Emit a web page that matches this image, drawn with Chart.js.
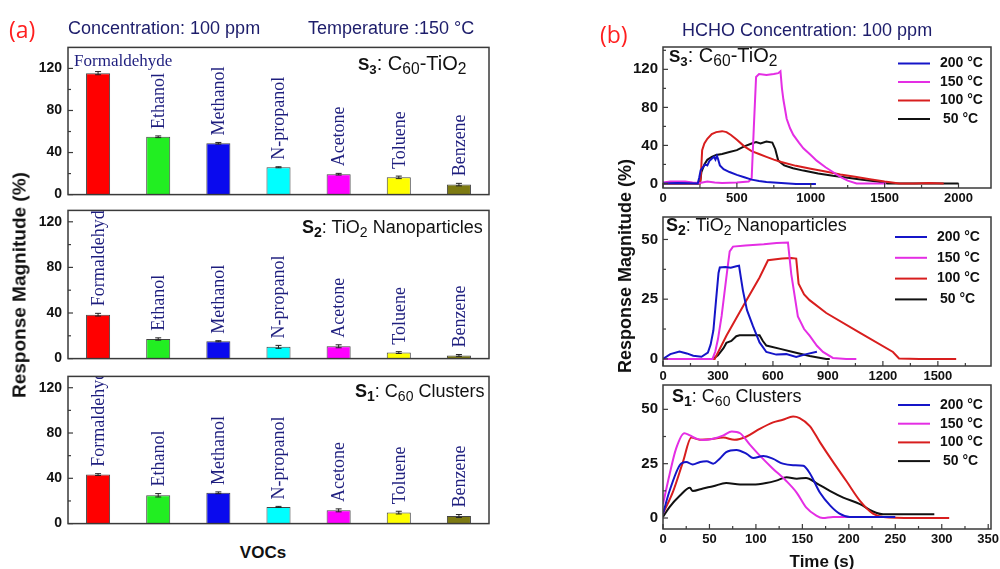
<!DOCTYPE html>
<html><head><meta charset="utf-8">
<script src="https://cdn.jsdelivr.net/npm/chart.js@4.4.1/dist/chart.umd.min.js"></script>
<style>
body{margin:0;width:1000px;height:569px;background:#fff;position:relative;overflow:hidden;font-family:"Liberation Sans",Arial,sans-serif;}
canvas{position:absolute;}
.t{position:absolute;white-space:nowrap;line-height:1;color:#111;}
.t sub{font-size:0.78em;vertical-align:-0.28em;line-height:0;}
.rot{position:absolute;white-space:nowrap;line-height:1;font-weight:bold;color:#111;transform:translate(-50%,-50%) rotate(-90deg);}
.ctr{position:absolute;white-space:nowrap;line-height:1;font-weight:bold;color:#111;transform:translate(-50%,-50%);}
</style></head><body>
<canvas id="a1"></canvas><canvas id="a2"></canvas><canvas id="a3"></canvas>
<canvas id="b1"></canvas><canvas id="b2"></canvas><canvas id="b3"></canvas>

<div class="t" style="left:9px;top:13px;font:23px 'Open Sans';color:#ff1f1f">(a)</div>
<div class="t" style="left:68px;top:19px;font-size:18px;color:#1d1d6b">Concentration: 100 ppm</div>
<div class="t" style="left:308px;top:19px;font-size:18px;color:#1d1d6b">Temperature :150 °C</div>
<div class="t" style="left:600px;top:18px;font:23px 'Open Sans';color:#ff1f1f">(b)</div>
<div class="t" style="left:682px;top:21px;font-size:18px;color:#1d1d6b">HCHO Concentration: 100 ppm</div>

<div class="t" style="left:358px;top:53px;font-size:20px"><b style="font-size:17px">S<sub>3</sub></b>: C<sub>60</sub>-TiO<sub>2</sub></div>
<div class="t" style="left:302px;top:218px;font-size:18px"><b>S<sub>2</sub></b>: TiO<sub>2</sub> Nanoparticles</div>
<div class="t" style="left:355px;top:382px;font-size:18px"><b>S<sub>1</sub></b>: C<sub>60</sub> Clusters</div>
<div class="t" style="left:669px;top:45px;font-size:20px"><b style="font-size:17px">S<sub>3</sub></b>: C<sub>60</sub>-TiO<sub>2</sub></div>
<div class="t" style="left:666px;top:216px;font-size:18px"><b>S<sub>2</sub></b>: TiO<sub>2</sub> Nanoparticles</div>
<div class="t" style="left:672px;top:387px;font-size:18px"><b>S<sub>1</sub></b>: C<sub>60</sub> Clusters</div>

<div class="rot" style="left:18.5px;top:285px;font-size:19px">Response Magnitude (%)</div>
<div class="rot" style="left:625px;top:266px;font-size:18px">Response Magnitude (%)</div>
<div class="ctr" style="left:263px;top:552px;font-size:17px">VOCs</div>
<div class="ctr" style="left:822px;top:561px;font-size:17px">Time (s)</div>

<script>
// ---------- Panel (a) data ----------
const vocs = ['Formaldehyde','Ethanol','Methanol','N-propanol','Acetone','Toluene','Benzene'];
const vocColors = ['#ff0000','#22ee22','#0a0aee','#00ffff','#ff00ff','#ffff00','#7d7a12'];
const s3Resp = [115.5, 55, 48.8, 26, 19.4, 16.4, 9.5];
const s3Err  = [1.5, 0.8, 0.8, 0.5, 0.8, 1.2, 1.2];
const s2Resp = [38.5, 17.2, 15.2, 10.3, 10.8, 5.3, 2.8];
const s2Err  = [1.2, 1.0, 0.5, 1.3, 1.3, 0.8, 0.8];
const s1Resp = [43.3, 25, 27.2, 14.7, 11.7, 9.7, 6.7];
const s1Err  = [0.8, 1.5, 0.8, 0.5, 1.3, 1.2, 1.3];
const aTicks = [0, 40, 80, 120];
const aMinor = [20, 60, 100];

// ---------- Panel (b) data ----------
const tempLabels = ['200 °C', '150 °C', '100 °C', '50 °C'];
const tempColors = ['#1515c8', '#e42ee4', '#d81e1e', '#111111'];

// S3: C60-TiO2  [time(s), response(%)]
const s3_200 = [[0,0],[100,0.5],[235,0],[245,6],[255,14],[270,17],[285,20],[300,19],[315,24],[330,26],[345,28],[355,25],[365,29],[372,26],[385,19],[410,15],[450,12],[500,9],[550,6.5],[600,4],[650,2.5],[700,1.5],[800,0.5],[900,-0.5],[1035,-0.5]];
const s3_150 = [[0,1],[50,2],[150,2],[200,1],[250,0.5],[300,2],[350,1],[400,0.5],[500,1],[580,2],[600,5],[615,60],[630,112],[650,115],[700,114],[750,115],[780,116],[795,118],[805,100],[815,88],[837,68],[860,58],[882,51],[920,43],[950,37],[1000,30],[1040,24],[1100,17],[1150,12],[1200,7],[1250,3],[1310,0],[1400,0],[1510,0]];
const s3_100 = [[0,0],[250,0],[255,5],[265,35],[280,42],[300,47],[330,52],[360,54],[400,55],[430,54],[460,51],[500,46],[550,39],[600,34],[650,31],[700,28],[750,25],[800,22.5],[900,18.5],[1000,15.5],[1100,12.5],[1200,9.5],[1300,7],[1400,4.5],[1500,2],[1600,0],[1700,0],[1800,0.5],[1900,0]];
const s3_50 = [[0,0],[250,0],[260,12],[280,20],[300,25],[330,28],[360,30],[400,31],[450,33],[500,35],[550,39],[600,42],[630,43.5],[660,42],[700,44],[740,43],[760,36],[780,24],[820,19],[880,16],[950,13.5],[1050,10.5],[1150,8],[1250,6],[1350,4],[1450,2],[1520,0],[1700,0],[2000,0]];

// S2: TiO2 nanoparticles
const s2_200 = [[0,0],[40,2],[90,3.1],[130,2.3],[165,1.3],[210,0.9],[245,2.6],[260,6],[275,12],[290,25],[303,36],[310,38.3],[340,38.5],[370,38.2],[400,38.8],[415,39],[425,34],[436,28.7],[458,20.5],[491,13.7],[527,6.9],[564,2.9],[618,1.8],[673,2],[727,0.8],[782,2],[840,3]];
const s2_150 = [[0,0],[270,0],[285,3],[300,8.3],[320,18],[337,28.7],[352,38],[364,45],[382,47],[450,47.5],[550,48],[620,48.5],[682,48.7],[700,35.5],[736,17.8],[770,12.5],[800,9.7],[840,5.5],[873,2.9],[927,0.4],[1000,0],[1055,0]];
const s2_100 = [[0,0],[282,0],[346,9.7],[436,21.9],[527,34.1],[573,41.3],[650,42],[700,42.2],[727,42],[740,31.5],[770,27],[800,24.6],[891,19.2],[1073,11],[1255,2.9],[1288,0.2],[1400,0],[1600,0]];
const s2_50 = [[0,0],[273,0],[300,1.5],[330,4.5],[346,6.7],[373,7.5],[400,9.5],[418,9.9],[527,9.9],[545,7.5],[564,5.6],[640,4.2],[709,2.9],[800,1.2],[891,0],[910,0]];

// S1: C60 clusters
const s1_200 = [[0,2],[7,12.4],[18,24.3],[25,25.8],[32,24.6],[40,25.8],[47,26.1],[54,25],[61,27.3],[68,30.3],[79,31.3],[90,29.5],[97,27.6],[108,28.5],[118,27.3],[129,25],[140,24.3],[151,24],[158,20.6],[169,11.6],[180,5.7],[190,2],[201,0.5],[250,0.5]];
const s1_150 = [[0,6.4],[7,19.9],[14,31.8],[23,39],[29,38],[36,36.5],[43,35.9],[54,36.5],[65,38],[74,39.8],[83,39],[93,34],[104,28.8],[118,22.8],[133,16.9],[144,11.6],[154,4.9],[165,1.1],[172,0],[183,0.5],[230,0.5]];
const s1_100 = [[0,2],[11,12.4],[21.5,25.8],[30.5,37],[39.5,36],[50,36.2],[65,37],[77,36],[90,37.5],[104,41],[118.5,44],[129,45.2],[140,46.7],[147,46],[158,42.3],[169,34.8],[183,25.8],[197.5,16.9],[212,7.9],[226,2],[237,0.5],[270,0],[308,0]];
const s1_50 = [[0,0.5],[7,5],[18,10.2],[29,13.9],[32,12.4],[43,13.6],[54,14.6],[68,16.1],[83,15.4],[97,15.4],[111,16.1],[122,17.2],[133,18.7],[144,18.1],[154,18.4],[165,16.1],[180,12.4],[194,9.4],[212,6.4],[226,3],[237,1.7],[292,1.7]];

// ---------- plugins ----------
function seg(ctx,x1,y1,x2,y2){ctx.beginPath();ctx.moveTo(x1,y1);ctx.lineTo(x2,y2);ctx.stroke();}

const framePlugin = {
  id:'frame',
  afterDraw(chart, args, o){
    const ctx = chart.ctx, ca = chart.chartArea;
    ctx.save();
    ctx.strokeStyle = '#3a3a3a'; ctx.lineWidth = 1.5;
    ctx.strokeRect(ca.left, ca.top, ca.right-ca.left, ca.bottom-ca.top);
    ctx.lineWidth = 1.2;
    const y = chart.scales.y, x = chart.scales.x;
    (o.yMajor||[]).forEach(v=>{const p=y.getPixelForValue(v); seg(ctx,ca.left,p,ca.left+5,p);});
    (o.yMinor||[]).forEach(v=>{const p=y.getPixelForValue(v); seg(ctx,ca.left,p,ca.left+3,p);});
    (o.xMajor||[]).forEach(v=>{const p=x.getPixelForValue(v); seg(ctx,p,ca.bottom,p,ca.bottom-5);});
    (o.xMinor||[]).forEach(v=>{const p=x.getPixelForValue(v); seg(ctx,p,ca.bottom,p,ca.bottom-3);});
    ctx.restore();
  }
};

const barLabelPlugin = {
  id:'barLabels',
  afterDatasetsDraw(chart, args, o){
    if(!o.errors) return;
    const ctx = chart.ctx, ca = chart.chartArea, y = chart.scales.y;
    const meta = chart.getDatasetMeta(0), data = chart.data.datasets[0].data;
    ctx.save();
    ctx.strokeStyle = '#222'; ctx.lineWidth = 1;
    meta.data.forEach((bar,i)=>{
      const v = data[i], e = o.errors[i];
      const yt = y.getPixelForValue(v+e), yb = y.getPixelForValue(v-e);
      seg(ctx,bar.x,yt,bar.x,yb); seg(ctx,bar.x-3,yt,bar.x+3,yt); seg(ctx,bar.x-3,yb,bar.x+3,yb);
    });
    ctx.beginPath(); ctx.rect(ca.left, ca.top, ca.right-ca.left, ca.bottom-ca.top); ctx.clip();
    ctx.fillStyle = '#1e1e7e';
    meta.data.forEach((bar,i)=>{
      const v = data[i], e = o.errors[i];
      const lbl = chart.data.labels[i];
      const yt = y.getPixelForValue(v+e);
      if ((o.horizontal||[]).includes(i)) {
        ctx.font = '17px "Liberation Serif"';
        ctx.textAlign = 'left'; ctx.textBaseline = 'alphabetic';
        ctx.fillText(lbl, bar.x - 24, yt - 6);
      } else {
        ctx.save();
        ctx.font = '18px "Liberation Serif"';
        ctx.translate(bar.x + 1, yt - 7);
        ctx.rotate(-Math.PI/2);
        ctx.textAlign = 'left'; ctx.textBaseline = 'middle';
        ctx.fillText(lbl, 0, 0);
        ctx.restore();
      }
    });
    ctx.restore();
  }
};

const legendPlugin = {
  id:'tempLegend',
  afterDraw(chart, args, o){
    if(o.x === undefined) return;
    const ctx = chart.ctx;
    ctx.save();
    ctx.font = 'bold 14px "Liberation Sans"'; ctx.textBaseline = 'middle'; ctx.textAlign = 'left';
    chart.data.datasets.forEach((ds,i)=>{
      const yy = o.y + i*o.dy - chart.$offY, xx = o.x - chart.$offX;
      ctx.strokeStyle = ds.borderColor; ctx.lineWidth = 2;
      seg(ctx, xx, yy, xx+32, yy);
      ctx.fillStyle = '#111';
      ctx.fillText(ds.label, xx+42 + (ds.label.length < 6 ? 3 : 0), yy);
    });
    ctx.restore();
  }
};
Chart.register(framePlugin, barLabelPlugin, legendPlugin);

function makeChart(id, box, mar, config){
  const c = document.getElementById(id);
  const W = box.r - box.l + mar.l + mar.r, H = box.b - box.t + mar.t + mar.b;
  c.width = W; c.height = H;
  c.style.left = (box.l - mar.l) + 'px'; c.style.top = (box.t - mar.t) + 'px';
  c.style.width = W + 'px'; c.style.height = H + 'px';
  const o = config.options;
  o.responsive = false; o.animation = false; o.devicePixelRatio = 1;
  o.layout = {padding:{left:0, top:mar.t, right:mar.r, bottom:0}};
  o.scales.x.afterFit = s => { s.height = mar.b; };
  o.scales.y.afterFit = s => { s.width = mar.l; };
  const ch = new Chart(c, config);
  ch.$offX = box.l - mar.l; ch.$offY = box.t - mar.t;
  ch.update();
  return ch;
}

const plain = v => String(v);

function barChart(id, box, resp, err, ymax, horiz){
  return makeChart(id, box, {l:55, t:10, r:6, b:10}, {
    type:'bar',
    data:{labels:vocs, datasets:[{data:resp, backgroundColor:vocColors, borderColor:'#444', borderWidth:1, barPercentage:0.4, categoryPercentage:1}]},
    options:{
      plugins:{legend:{display:false}, tooltip:{enabled:false},
        frame:{yMajor:aTicks, yMinor:aMinor},
        barLabels:{errors:err, horizontal:horiz}},
      scales:{
        x:{ticks:{display:false}, grid:{display:false, drawTicks:false}, border:{display:false}},
        y:{min:0, max:ymax, grid:{display:false, drawTicks:false}, border:{display:false},
           afterBuildTicks:s=>{s.ticks = aTicks.map(v=>({value:v}));},
           ticks:{padding:6, callback:plain, color:'#111', font:{family:'Liberation Sans', size:14, weight:'bold'}}}
      }
    }
  });
}

barChart('a1', {l:68, t:43, r:489, b:199}, s3Resp, s3Err, 140, [0]);
barChart('a2', {l:68, t:206, r:489, b:363}, s2Resp, s2Err, 130, []);
barChart('a3', {l:68, t:372, r:489, b:528}, s1Resp, s1Err, 130, []);

function lineChart(id, box, series, xr, yr, xTicks, xMinor, yTicks, yMinor, legend, smooth){
  return makeChart(id, box, {l:55, t:10, r:20, b:22}, {
    type:'line',
    data:{datasets: series.map((s,i)=>({
      label: tempLabels[i], data: s.map(p=>({x:p[0], y:p[1]})),
      borderColor: tempColors[i], borderWidth: 2, pointRadius: 0, fill:false,
      tension: smooth ? 0.3 : 0, cubicInterpolationMode: smooth ? 'monotone' : 'default'
    }))},
    options:{
      plugins:{legend:{display:false}, tooltip:{enabled:false},
        frame:{yMajor:yTicks, yMinor:yMinor, xMajor:xTicks, xMinor:xMinor},
        tempLegend:legend},
      scales:{
        x:{type:'linear', min:xr[0], max:xr[1], grid:{display:false, drawTicks:false}, border:{display:false},
           afterBuildTicks:s=>{s.ticks = xTicks.map(v=>({value:v}));},
           ticks:{padding:3, maxRotation:0, autoSkip:false, callback:plain, color:'#111', font:{family:'Liberation Sans', size:13, weight:'bold'}}},
        y:{min:yr[0], max:yr[1], grid:{display:false, drawTicks:false}, border:{display:false},
           afterBuildTicks:s=>{s.ticks = yTicks.map(v=>({value:v}));},
           ticks:{padding:5, callback:plain, color:'#111', font:{family:'Liberation Sans', size:15, weight:'bold'}}}
      }
    }
  });
}

const b1xTicks = [0,500,1000,1500,2000], b1xMinor = [250,750,1250,1750];
const b2xTicks = [0,300,600,900,1200,1500], b2xMinor = [150,450,750,1050,1350,1650];
const b3xTicks = [0,50,100,150,200,250,300,350], b3xMinor = [25,75,125,175,225,275,325];

lineChart('b1', {l:663, t:43, r:991, b:188}, [s3_200, s3_150, s3_100, s3_50], [0,2220], [-4.8,143.5],
  b1xTicks, b1xMinor, [0,40,80,120], [20,60,100,140], {x:898, y:63.5, dy:18.5}, false);
lineChart('b2', {l:663, t:213, r:991, b:366}, [s2_200, s2_150, s2_100, s2_50], [0,1790], [-2.97,59.4],
  b2xTicks, b2xMinor, [0,25,50], [12.5,37.5], {x:895, y:237, dy:20.8}, false);
lineChart('b3', {l:663, t:381, r:991, b:529}, [s1_200, s1_150, s1_100, s1_50], [0,353], [-5.06,61.2],
  b3xTicks, b3xMinor, [0,25,50], [12.5,37.5], {x:898, y:405, dy:18.7}, true);
</script>
</body></html>
